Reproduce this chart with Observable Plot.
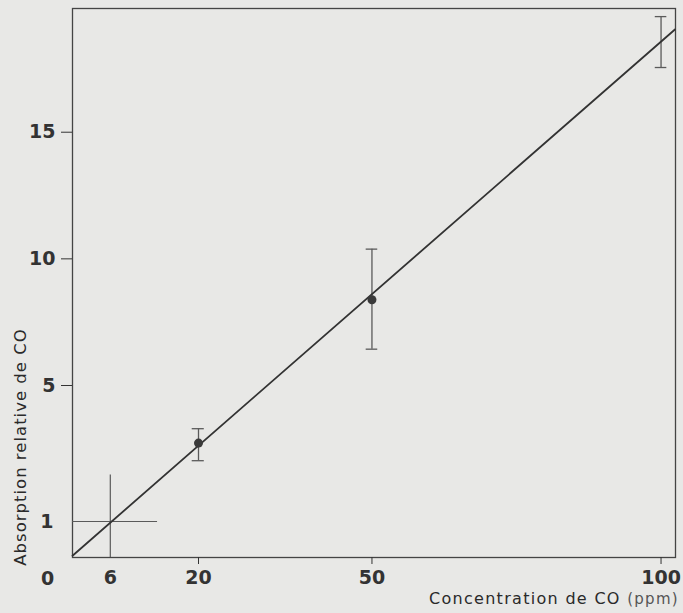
<!DOCTYPE html>
<html><head><meta charset="utf-8">
<script src="https://cdn.jsdelivr.net/npm/d3@7"></script>
<script src="https://cdn.jsdelivr.net/npm/@observablehq/plot@0.6"></script>
<style>
html,body{margin:0;padding:0;background:#e8e8e6;}
#chart svg{display:block;background:#e8e8e6;}
</style></head><body><div id="chart"></div>
<script>
// ---- data ----
const concentration = [20, 50, 100];          // ppm
const absorption    = [3.45, 8.7, null];      // measured point (none drawn at 100)
const errLow        = [2.9, 6.75, 17.87];
const errHigh       = [3.9, 10.7, 19.88];
const fitX = [0, 102.4];                      // calibration line ends
const fitY = [0.05, 19.37];
const refX = 6, refY = 1;                     // threshold cross
const refXLineEnd = 13.5, refYLineTop = 2.45;
const xTicks = [20, 50, 100];
const xExtraTicks = [6];
const yTicks = [5, 10, 15];
const yExtraTicks = [1];
const xTitle = "Concentration de CO";
const xUnit = "(ppm)";
const yTitle = "Absorption relative de CO";

// ---- tables built from the arrays ----
const bars = concentration.map((c, i) => ({x: c, y: absorption[i], lo: errLow[i], hi: errHigh[i]}));
const pts = bars.filter(d => d.y != null);
const fit = fitX.map((x, i) => ({x, y: fitY[i]}));
const capHalf = 1;

const W = 683, H = 613, mL = 72, mR = 8, mT = 8, mB = 56;
const ink = "#333", soft = "#5a5a5a";
const tickFont = {fontSize: 19, fontWeight: "bold", fontFamily: "DejaVu Sans, sans-serif"};

const plot = Plot.plot({
  width: W, height: H,
  marginLeft: mL, marginRight: mR, marginTop: mT, marginBottom: mB,
  style: {background: "#e8e8e6", color: ink, overflow: "visible"},
  x: {type: "linear", domain: [0, 20, 102.5], range: [mL, 198, W - mR], nice: false},
  y: {type: "linear", domain: [0, 1, 5, 20.2], range: [H - mB, H - mB - 36, H - mB - 164, mT], nice: false},
  marks: [
    Plot.frame({stroke: "#444", strokeWidth: 1.3}),
    Plot.ruleX([refX], {y1: 0, y2: refYLineTop, stroke: soft, strokeWidth: 1.2}),
    Plot.ruleY([refY], {x1: 0, x2: refXLineEnd, stroke: soft, strokeWidth: 1.2}),
    Plot.ruleX(bars, {x: "x", y1: "lo", y2: "hi", stroke: soft, strokeWidth: 1.3}),
    Plot.ruleY(bars, {y: "lo", x1: d => d.x - capHalf, x2: d => d.x + capHalf, stroke: soft, strokeWidth: 1.3}),
    Plot.ruleY(bars, {y: "hi", x1: d => d.x - capHalf, x2: d => d.x + capHalf, stroke: soft, strokeWidth: 1.3}),
    Plot.line(fit, {x: "x", y: "y", stroke: ink, strokeWidth: 1.8}),
    Plot.dot(pts, {x: "x", y: "y", r: 4.5, fill: "#3a3a3a", stroke: "none"}),
    Plot.axisY(yTicks, {tickSize: 11, tickPadding: 6, dy: -8, color: ink, label: null, textAnchor: "end", ...tickFont}),
    Plot.axisY(yExtraTicks, {tickSize: 0, tickPadding: 19, color: ink, label: null, ...tickFont}),
    Plot.axisX(xTicks, {tickSize: 7, tickPadding: 6, color: ink, label: null, ...tickFont}),
    Plot.axisX(xExtraTicks, {tickSize: 0, tickPadding: 13, color: ink, label: null, ...tickFont}),
    Plot.text([0], {x: 0, y: 0, text: d => String(d), dx: -25, dy: 21, fill: ink, ...tickFont})
  ]
});

const svg = d3.select(plot);
const tfont = "DejaVu Sans, sans-serif";
const xt = svg.append("text")
  .attr("x", 679).attr("y", 604)
  .attr("text-anchor", "end")
  .attr("font-family", tfont).attr("font-size", 16)
  .attr("letter-spacing", "1.3px")
  .attr("fill", "#2a2a2a");
xt.append("tspan").text(xTitle + " ");
xt.append("tspan").attr("fill", "#555").attr("font-size", 15).text(xUnit);

svg.append("text")
  .attr("transform", "translate(26,447) rotate(-90)")
  .attr("text-anchor", "middle")
  .attr("font-family", tfont).attr("font-size", 16.5)
  .attr("letter-spacing", "1px")
  .attr("fill", "#2a2a2a")
  .text(yTitle);

document.getElementById("chart").appendChild(plot);
</script>
</body></html>
